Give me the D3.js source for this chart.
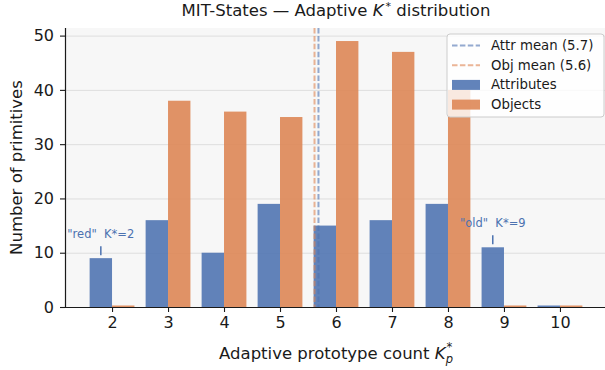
<!DOCTYPE html>
<html lang="en">
<head>
  <meta charset="utf-8" />
  <title>MIT-States Adaptive K* distribution</title>
  <script src="https://cdn.jsdelivr.net/npm/d3@7"></script>
  <style>
body { margin: 0; background: white; }
text { font-family: "DejaVu Sans", sans-serif; fill: #1a1a1a; }
  </style>
</head>
<body>
<script>

// data
var kValues = [2, 3, 4, 5, 6, 7, 8, 9, 10];
var attrCounts = [9, 16, 10, 19, 15, 16, 19, 11, 0];
var objCounts = [0, 38, 36, 35, 49, 47, 40, 0, 0];
var yTicks = [0, 10, 20, 30, 40, 50];
var notes = [
  { k: 2, label: "\"red\"  K*=2" },
  { k: 9, label: "\"old\"  K*=9" }
];

var w = 605, h = 370;
var pad = { left: 65, right: -2, top: 28, bottom: 63 };
var blue = "#4C72B0", orange = "#DD8452";
var barW = 0.4;

function mean(counts) {
  var s = 0, n = 0;
  counts.forEach(function(c, i) { s += c * kValues[i]; n += c; });
  return s / n;
}
var attrMean = mean(attrCounts);
var objMean = mean(objCounts);

var svg = d3.select("body").append("svg")
    .attr("width", w)
    .attr("height", h);

var x = d3.scaleLinear()
    .domain([1.16, 10.84])
    .range([pad.left, w - pad.right]);
var y = d3.scaleLinear()
    .domain([0, 51.4])
    .range([h - pad.bottom, pad.top]);

// plot background
svg.append("rect")
    .attr("x", pad.left).attr("y", pad.top)
    .attr("width", x.range()[1] - pad.left)
    .attr("height", y(0) - pad.top)
    .attr("fill", "#f7f7f7");

// grid
svg.append("g").selectAll("line")
    .data(yTicks)
  .enter().append("line")
    .attr("x1", pad.left).attr("x2", x.range()[1])
    .attr("y1", function(d) { return y(d) + 0.5; })
    .attr("y2", function(d) { return y(d) + 0.5; })
    .attr("stroke", "#dedede")
    .attr("stroke-width", 1);

function drawBars(counts, color, off) {
  svg.append("g").selectAll("rect")
      .data(counts)
    .enter().append("rect")
      .attr("x", function(d, i) { return x(kValues[i] + off); })
      .attr("width", x(barW) - x(0))
      .attr("y", function(d) { return Math.min(y(d), y(0) - 1.5); })
      .attr("height", function(d) { return Math.max(y(0) - y(d), 1.5); })
      .attr("fill", color)
      .attr("fill-opacity", 0.88);
}
drawBars(attrCounts, blue, -barW);
drawBars(objCounts, orange, 0);

// mean lines
[[objMean, orange], [attrMean, blue]].forEach(function(m) {
  svg.append("line")
      .attr("x1", x(m[0])).attr("x2", x(m[0]))
      .attr("y1", pad.top).attr("y2", y(0))
      .attr("stroke", m[1])
      .attr("stroke-opacity", 0.6)
      .attr("stroke-width", 2)
      .attr("stroke-dasharray", "5.5,2.4");
});

// annotations
notes.forEach(function(n) {
  var i = kValues.indexOf(n.k);
  var cx = x(n.k - barW / 2);
  var top = y(attrCounts[i]);
  svg.append("line")
      .attr("x1", cx).attr("x2", cx)
      .attr("y1", top - 3).attr("y2", top - 12)
      .attr("stroke", blue).attr("stroke-width", 1.5);
  svg.append("text")
      .attr("x", cx).attr("y", top - 20)
      .attr("text-anchor", "middle")
      .attr("font-size", 11.5)
      .style("fill", blue)
      .style("white-space", "pre")
      .text(n.label);
});

// axes
var xAxis = svg.append("g")
    .attr("transform", "translate(0," + y(0) + ")")
    .call(d3.axisBottom(x).tickValues(kValues).tickSize(5).tickPadding(5));
var yAxis = svg.append("g")
    .attr("transform", "translate(" + pad.left + ",0)")
    .call(d3.axisLeft(y).tickValues(yTicks).tickSize(5).tickPadding(6));
[xAxis, yAxis].forEach(function(a) {
  a.selectAll("text").attr("font-size", 16).style("fill", "#1a1a1a")
      .attr("font-family", "DejaVu Sans");
  a.selectAll("line").attr("stroke", "#1a1a1a").attr("stroke-width", 1.1);
  a.select(".domain").attr("stroke", "#1a1a1a").attr("stroke-width", 1.2);
});
xAxis.select(".domain").attr("d", "M" + pad.left + ",0.5H" + x.range()[1]);
yAxis.select(".domain").attr("d", "M0.5," + y(0) + "V" + pad.top);

// title
var title = svg.append("text")
    .attr("x", (pad.left + x.range()[1]) / 2).attr("y", 16)
    .attr("text-anchor", "middle")
    .attr("font-size", 16.5);
title.append("tspan").text("MIT-States \u2014 Adaptive ");
title.append("tspan").attr("font-style", "italic").text("K");
title.append("tspan").attr("font-size", 11).attr("dx", 2).attr("dy", -6).text("*");
title.append("tspan").attr("dy", 6).text(" distribution");

// axis labels
var xl = svg.append("text")
    .attr("x", (pad.left + x.range()[1]) / 2).attr("y", 359)
    .attr("text-anchor", "middle")
    .attr("font-size", 16.5);
xl.append("tspan").text("Adaptive prototype count ");
xl.append("tspan").attr("font-style", "italic").text("K");
xl.append("tspan").attr("font-style", "italic").attr("font-size", 11.5).attr("dy", 4).text("p");
xl.append("tspan").attr("font-size", 11.5).attr("dx", -6.5).attr("dy", -12).text("*");

svg.append("text")
    .attr("transform", "translate(22," + (pad.top + y(0)) / 2 + ") rotate(-90)")
    .attr("text-anchor", "middle")
    .attr("font-size", 16.5)
    .text("Number of primitives");

// legend
var lg = svg.append("g").attr("transform", "translate(447,34)");
lg.append("rect")
    .attr("width", 157).attr("height", 83)
    .attr("rx", 3)
    .attr("fill", "white").attr("fill-opacity", 0.8)
    .attr("stroke", "#cccccc");
var items = [
  { label: "Attr mean (5.7)", color: blue, type: "line" },
  { label: "Obj mean (5.6)", color: orange, type: "line" },
  { label: "Attributes", color: blue, type: "bar" },
  { label: "Objects", color: orange, type: "bar" }
];
items.forEach(function(it, i) {
  var cy = 11.5 + i * 19.7;
  if (it.type == "line") {
    lg.append("line")
        .attr("x1", 5).attr("x2", 33)
        .attr("y1", cy).attr("y2", cy)
        .attr("stroke", it.color).attr("stroke-opacity", 0.6)
        .attr("stroke-width", 2).attr("stroke-dasharray", "5.5,2.4");
  } else {
    lg.append("rect")
        .attr("x", 5).attr("y", cy - 5)
        .attr("width", 28).attr("height", 10)
        .attr("fill", it.color).attr("fill-opacity", 0.88);
  }
  lg.append("text")
      .attr("x", 44).attr("y", cy + 4.5)
      .attr("font-size", 13.3)
      .text(it.label);
});

</script>
</body>
</html>
